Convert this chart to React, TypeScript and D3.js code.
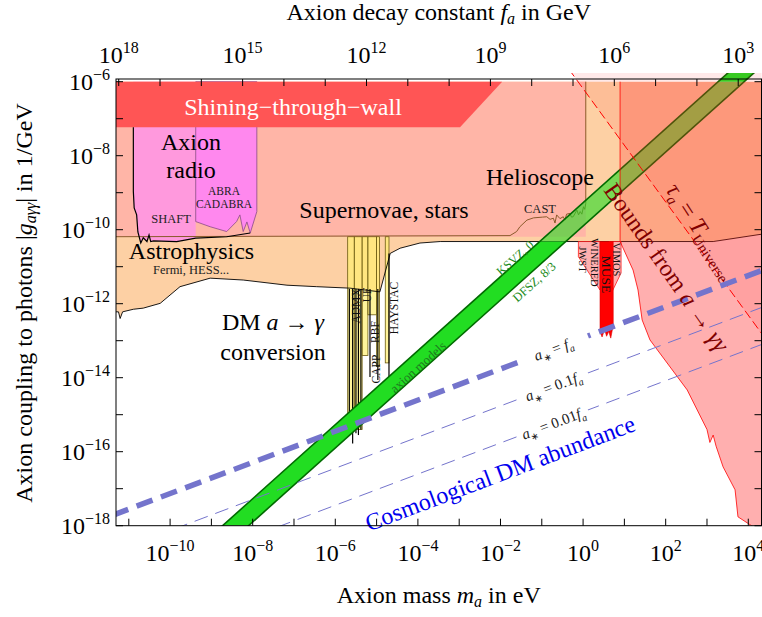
import React from "react";
import * as d3 from "d3";

// ---- axis ranges and ticks (log10 values) ----
const massRange = [-11.31, 4.32];
const couplingRange = [-18, -5.927];
const massTicks = d3.range(-11, 5);
const massTickLabels = [-10, -8, -6, -4, -2, 0, 2, 4];
const couplingTicks = d3.range(-18, -5);
const couplingTickLabels = [-18, -16, -14, -12, -10, -8, -6];
const faTicks = d3.range(3, 19);
const faTickLabels = [18, 15, 12, 9, 6, 3];
const massOfFaOffset = 6.756; // log10(m/eV) = 6.756 - log10(fa/GeV)

// ---- regions, [log10 m, log10 g] ----
const starBound = -10.19;
const starEdge = 0.065;
const stwRegion = [[-11.5, -6], [-1.96, -6], [-2.98, -7.23], [-11.5, -7.23]];
const astroLower = [
  [-11.31, -12.22], [-11.25, -12.22], [-11.21, -12.4], [-11.15, -12.22], [-10.89, -12.15],
  [-10.65, -12.12], [-10.24, -11.99], [-9.76, -11.54], [-9.03, -11.31], [-8.23, -11.36],
  [-7.17, -11.5], [-6.45, -11.54], [-5.64, -11.58], [-4.92, -11.68], [-4.67, -10.64],
  [-4.43, -10.5], [-3.95, -10.36], [-3.46, -10.32], [3.15, -10.32], [4.33, -10.12], [4.6, -10.07],
];
const shaftCurve = [
  [-10.89, -8.97], [-10.87, -9.41], [-10.81, -9.6], [-10.78, -10.06], [-10.71, -10.36],
  [-10.65, -10.22], [-10.56, -10.32], [-10.51, -10.14], [-10.47, -10.32], [-10.4, -10.3],
  [-9.84, -10.32], [-9.38, -10.23], [-8.63, -10.19], [-8.06, -10.09],
];
const abraCurve = [
  [-9.38, -9.78], [-9.03, -9.92], [-8.63, -10.05], [-8.39, -9.78], [-8.31, -9.6],
  [-8.23, -10.05], [-8.14, -9.79], [-8.06, -10.09], [-7.9, -9.51],
];
const castCurve = [
  [-11.5, -10.19], [-1.77, -10.16], [-1.61, -10.05], [-1.53, -9.92], [-1.36, -9.74], [-1.2, -9.68],
  [-0.98, -9.66], [-0.88, -9.65], [-0.8, -9.72], [-0.72, -9.69], [-0.68, -9.82], [-0.64, -9.6],
  [-0.56, -9.7], [-0.48, -9.65], [-0.44, -9.74], [-0.4, -9.58], [-0.32, -9.56], [-0.28, -9.66],
  [-0.24, -9.65], [-0.15, -9.47], [-0.11, -9.6], [-0.07, -9.51], [-0.03, -9.58], [0.01, -9.38],
  [0.04, -9.45], [0.065, -9.29], [0.065, -6],
];
const haloscopes = [
  { name: "ADMX", lo: -5.7, hi: -5.54, g: -15.14 },
  { name: "", lo: -5.54, hi: -5.35, g: -15.4 },
  { name: "UF", lo: -5.35, hi: -5.21, g: -13.4 },
  { name: "RBF", lo: -5.21, hi: -5.0, g: -12.3 },
  { name: "CAPP", lo: -5.0, hi: -4.93, g: -13.7 },
  { name: "HAYSTAC", lo: -4.79, hi: -4.7, g: -13.6 },
];
const haloSpikes = [
  [-5.66, -11.6, -15.2], [-5.58, -11.6, -15.78], [-5.5, -11.6, -15.5], [-5.44, -11.6, -15.55],
  [-5.38, -11.6, -15.4], [-5.16, -11.6, -13.98], [-4.97, -11.6, -14.06], [-4.7, -10.64, -14.06],
];
const jwstRegion = [[-0.114, -10.32], [-0.114, -10.73], [0.41, -11.63], [0.41, -10.32]];
const vimosRegion = [[0.63, -10.32], [0.92, -10.32], [0.92, -11.17], [0.7, -11.68]];
const museRegion = [
  [0.41, -10.32], [0.73, -10.32], [0.73, -12.58], [0.67, -12.93], [0.62, -12.75], [0.57, -12.88],
  [0.52, -12.7], [0.46, -12.9], [0.41, -12.76],
];
const decayEdge = [
  [0.896, -6], [0.896, -10.32], [1.21, -11.09], [1.33, -11.63], [1.43, -12.44], [1.62, -12.98],
  [2.52, -14.33], [3.0, -15.4], [3.07, -15.75], [3.15, -15.55], [3.22, -15.85], [3.39, -16.41],
  [3.68, -17.03], [3.75, -17.76], [4.12, -18.03], [4.6, -18.03],
];
const decayClose = [[4.6, -6]];
const tauLine = [[-0.9, -4.81], [4.6, -13.23]];
const ksvzLine = [[-12, -21.27], [5, -4.27]];
const dfszLine = [[-12, -21.9], [5, -4.9]];
const dmLine = [[-11.4, -17.72], [4.4, -11.07]];
const dmOffsets = [0, -1, -2];
const dmLabels = ["", "0.1", "0.01"];
const dmLabelMass = -0.72;

const FONT = "Liberation Serif, Tinos, Times New Roman, serif";

const L = 116, R = 761.5, T = 79, B = 525.7, CLIPTOP = 73;

export default function App() {
  const x = d3.scaleLog().domain([10 ** massRange[0], 10 ** massRange[1]]).range([L, R]);
  const y = d3.scaleLog().domain([10 ** couplingRange[0], 10 ** couplingRange[1]]).range([B, T]);
  const X = (v: number) => x(10 ** v);
  const Y = (v: number) => y(10 ** v);
  const line = d3.line<number[]>().x((d) => X(d[0])).y((d) => Y(d[1]));
  const poly = (pts: number[][]) => (line(pts) || "") + "Z";
  const ang = (a: number[], b: number[]) =>
    (Math.atan2(Y(b[1]) - Y(a[1]), X(b[0]) - X(a[0])) * 180) / Math.PI;

  const peach = [[-11.5, -6], [4.6, -6], ...astroLower.slice().reverse(), [-11.5, -12.22]];
  const belowAstro = [[-11.5, -12.22], ...astroLower, [4.6, -18.6], [-11.5, -18.6]];
  const salmon = [[-11.5, -6], [starEdge, -6], [starEdge, starBound], [-11.5, starBound]];
  const shaftRegion = [[-10.89, -6], ...shaftCurve.filter((p) => p[0] <= -9.38), [-9.38, -6]];
  const abraRegion = [[-9.38, -6], ...abraCurve, [-7.9, -6]];
  const band = [...ksvzLine, ...dfszLine.slice().reverse()];
  const tauRegion = [...tauLine, [4.6, -4.81]];
  const decayRegion = [...decayEdge, ...decayClose];
  const bandAngle = ang(ksvzLine[0], ksvzLine[1]);
  const dmAngle = ang(dmLine[0], dmLine[1]);
  const dmAt = (m: number, off: number) =>
    dmLine[0][1] + off + ((dmLine[1][1] - dmLine[0][1]) * (m - dmLine[0][0])) / (dmLine[1][0] - dmLine[0][0]);

  const sup = (e: number) => (e < 0 ? "\u2212" + Math.abs(e) : String(e));

  return (
    <svg width={762} height={617} style={{ position: "absolute", left: 0, top: 0, background: "#fff", fontFamily: FONT }}>
      <defs>
        <clipPath id="plot"><rect x={L} y={CLIPTOP} width={R - L} height={B - CLIPTOP} /></clipPath>
        <clipPath id="bandSolid">
          <rect x={L} y={CLIPTOP} width={R - L} height={Y(-6) - CLIPTOP} />
          <rect x={L} y={Y(-10.32)} width={R - L} height={B - Y(-10.32)} />
        </clipPath>
        <clipPath id="bandSoft"><rect x={L} y={Y(-6)} width={R - L} height={Y(-10.32) - Y(-6)} /></clipPath>
        <clipPath id="onAstro"><path d={poly(peach)} /></clipPath>
        <clipPath id="offAstro"><path d={poly(belowAstro)} /></clipPath>
      </defs>
      <g clipPath="url(#plot)">
        <path d={poly(peach)} fill="#FDD0A4" />
        <path d={poly(salmon)} fill="#FFB5A7" />
        <path d={poly(shaftRegion)} fill="#FF99DD" />
        <path d={poly(abraRegion)} fill="#FF88EE" stroke="#8a4a8a" strokeWidth={0.8} />
        <path d={poly(stwRegion)} fill="#FF5555" />
        {haloscopes.map((h, i) => (
          <rect key={i} x={X(h.lo)} y={Y(starBound)} width={X(h.hi) - X(h.lo)} height={Y(h.g) - Y(starBound)}
            fill="#FFEF70" fillOpacity={0.7} stroke="#6b5a10" strokeWidth={0.8} />
        ))}
        {haloSpikes.map((s, i) => (
          <line key={i} x1={X(s[0])} x2={X(s[0])} y1={Y(s[1])} y2={Y(s[2])} stroke="#000" strokeWidth={1.2} />
        ))}
        <path d={line(castCurve) || ""} fill="none" stroke="#8B5A2B" strokeWidth={1} />
        <path d={line(astroLower) || ""} fill="none" stroke="#000" strokeWidth={0.9} />
        <path d={line([[-10.89, -7.23], ...shaftCurve]) || ""} fill="none" stroke="#000" strokeWidth={1.2} />
        <path d={poly(jwstRegion)} fill="#FFB0B0" stroke="#FF0000" strokeWidth={0.7} />
        <path d={poly(vimosRegion)} fill="#FFB0B0" stroke="#FF0000" strokeWidth={0.7} />
        <path d={poly(museRegion)} fill="#FF0000" stroke="#DD0000" strokeWidth={0.6} />
        <g clipPath="url(#bandSolid)">
          <path d={poly(band)} fill="#22DD22" />
        </g>
        <g clipPath="url(#bandSoft)">
          <path d={poly(band)} fill="#22DD22" fillOpacity={0.6} />
        </g>
        <path d={line(ksvzLine) || ""} stroke="#006A00" strokeWidth={1.6} fill="none" />
        <path d={line(dfszLine) || ""} stroke="#006A00" strokeWidth={1.6} fill="none" />
        <path d={poly(tauRegion)} fill="#FF2a2a" fillOpacity={0.1} />
        <g clipPath="url(#onAstro)">
          <path d={poly(decayRegion)} fill="#FF2020" fillOpacity={0.24} />
        </g>
        <g clipPath="url(#offAstro)">
          <path d={poly(decayRegion)} fill="#FF2020" fillOpacity={0.36} />
        </g>
        <path d={line(decayEdge.slice(0, 15)) || ""} fill="none" stroke="#FF0000" strokeWidth={0.8} />
        <path d={line(tauLine) || ""} fill="none" stroke="#FF0000" strokeWidth={1} strokeDasharray="9 4" />
        {dmOffsets.map((off, i) => (
          <path key={i} d={line(dmLine.map((p) => [p[0], p[1] + off])) || ""} fill="none" stroke="#7474CC"
            strokeWidth={i === 0 ? 5.5 : 1} strokeDasharray={i === 0 ? "17 9" : "14 8"} />
        ))}
      </g>

      {/* DM labels on lines */}
      {dmOffsets.map((off, i) => (
        <g key={i} transform={`translate(${X(dmLabelMass)},${Y(dmAt(dmLabelMass, off))}) rotate(${dmAngle})`}>
          <rect x={-37} y={-11} width={74} height={22} fill="#fff" />
          <text textAnchor="middle" dy="0.35em" fontSize={15} fill="#222">
            <tspan fontStyle="italic">a</tspan>
            <tspan fontSize={10} dy={4}>{"\u2217"}</tspan>
            <tspan dy={-4}>{" = " + dmLabels[i]}</tspan>
            <tspan fontStyle="italic">f</tspan>
            <tspan fontSize={10} dy={4} fontStyle="italic">a</tspan>
          </text>
        </g>
      ))}

      {/* region labels */}
      <text x={293} y={115} fontSize={24} fill="#fff" textAnchor="middle">{"Shining\u2212through\u2212wall"}</text>
      <text x={191} y={150} fontSize={24} textAnchor="middle">Axion</text>
      <text x={191} y={178} fontSize={24} textAnchor="middle">radio</text>
      <text x={171} y={222.7} fontSize={12.5} textAnchor="middle" fill="#222">SHAFT</text>
      <text x={224} y={195} fontSize={11.5} textAnchor="middle" fill="#222">ABRA</text>
      <text x={224} y={208} fontSize={11.5} textAnchor="middle" fill="#222">CADABRA</text>
      <text x={384} y={218} fontSize={24} textAnchor="middle">Supernovae, stars</text>
      <text x={540} y={185} fontSize={24} textAnchor="middle">Helioscope</text>
      <text x={540} y={213} fontSize={12.5} textAnchor="middle" fill="#222">CAST</text>
      <text x={191.5} y={259} fontSize={24} textAnchor="middle">Astrophysics</text>
      <text x={191} y={274} fontSize={12.5} textAnchor="middle" fill="#222">Fermi, HESS...</text>
      <text x={273} y={330} fontSize={24} textAnchor="middle">
        DM <tspan fontStyle="italic">a</tspan> {"\u2192"} <tspan fontStyle="italic">{"\u03B3"}</tspan>
      </text>
      <text x={273} y={360} fontSize={24} textAnchor="middle">conversion</text>

      {/* haloscope labels */}
      {[
        ["ADMX", 355.7, 306], ["UF", 366.7, 295], ["RBF", 374.5, 332], ["CAPP", 375.5, 369], ["HAYSTAC", 394, 308],
      ].map(([t, px, py], i) => (
        <text key={i} transform={`translate(${px},${py}) rotate(-90)`} textAnchor="middle" dy="0.35em" fontSize={11.5} fill="#111">{t}</text>
      ))}
      {[
        ["JWST", 583, 259.5, 10.5], ["WINERED", 595, 262.5, 10.5], ["MUSE", 606.7, 274.5, 13.5], ["VIMOS", 617, 259.5, 10.5],
      ].map(([t, px, py, fs], i) => (
        <text key={i} transform={`translate(${px},${py}) rotate(90)`} textAnchor="middle" dy="0.35em" fontSize={fs as number} fill="#111">{t}</text>
      ))}

      {/* band labels */}
      <text transform={`translate(418,367) rotate(${bandAngle})`} textAnchor="middle" dy="0.35em" fontSize={13} fill="#1f7a1f">axion models</text>
      <text transform={`translate(515,258) rotate(${bandAngle})`} textAnchor="middle" dy="0.35em" fontSize={12.5} fill="#1a8a1a">KSVZ, 0</text>
      <text transform={`translate(534,282) rotate(${bandAngle})`} textAnchor="middle" dy="0.35em" fontSize={12.5} fill="#1a8a1a">DFSZ, 8/3</text>

      <text transform={`translate(500,473) rotate(${dmAngle})`} textAnchor="middle" dy="0.35em" fontSize={24} fill="#0000EE">Cosmological DM abundance</text>

      <text transform="translate(667,267) rotate(55)" textAnchor="middle" dy="0.35em" fontSize={24} fill="#800000">
        Bounds from <tspan fontStyle="italic">a</tspan> {"\u2192"} <tspan fontStyle="italic">{"\u03B3\u03B3"}</tspan>
      </text>
      <text transform="translate(702,231) rotate(57)" textAnchor="middle" dy="0.35em" fontSize={24} fill="#800000">
        <tspan fontStyle="italic">{"\u03C4"}</tspan>
        <tspan fontSize={15} dy={5} fontStyle="italic">a</tspan>
        <tspan dy={-5}>{" = "}</tspan>
        <tspan fontStyle="italic">T</tspan>
        <tspan fontSize={15} dy={5}>Universe</tspan>
      </text>

      {/* frame and ticks */}
      <rect x={L} y={T} width={R - L} height={B - T} fill="none" stroke="#000" strokeWidth={1} />
      {massTicks.map((m) => (
        <line key={"b" + m} x1={X(m)} x2={X(m)} y1={B} y2={B - 7} stroke="#000" />
      ))}
      {faTicks.map((f) => (
        <line key={"t" + f} x1={X(massOfFaOffset - f)} x2={X(massOfFaOffset - f)} y1={T} y2={T + 7} stroke="#000" />
      ))}
      {couplingTicks.map((g) => (
        <g key={"l" + g}>
          <line x1={L} x2={L + 7} y1={Y(g)} y2={Y(g)} stroke="#000" />
          <line x1={R} x2={R - 7} y1={Y(g)} y2={Y(g)} stroke="#000" />
        </g>
      ))}
      {massTickLabels.map((m) => (
        <text key={"bl" + m} x={X(m)} y={561} textAnchor="middle" fontSize={24}>
          10<tspan fontSize={16} dy={-10}>{sup(m)}</tspan>
        </text>
      ))}
      {faTickLabels.map((f) => (
        <text key={"tl" + f} x={X(massOfFaOffset - f)} y={63} textAnchor="middle" fontSize={24}>
          10<tspan fontSize={16} dy={-10}>{sup(f)}</tspan>
        </text>
      ))}
      {couplingTickLabels.map((g) => (
        <text key={"ll" + g} x={110} y={Y(g) + 8} textAnchor="end" fontSize={24}>
          10<tspan fontSize={16} dy={-10}>{sup(g)}</tspan>
        </text>
      ))}

      {/* axis titles */}
      <text x={(L + R) / 2} y={603} textAnchor="middle" fontSize={24}>
        Axion mass <tspan fontStyle="italic">m</tspan><tspan fontSize={16} dy={4} fontStyle="italic">a</tspan><tspan dy={-4}> in eV</tspan>
      </text>
      <text x={(L + R) / 2} y={20} textAnchor="middle" fontSize={24}>
        Axion decay constant <tspan fontStyle="italic">f</tspan><tspan fontSize={16} dy={4} fontStyle="italic">a</tspan><tspan dy={-4}> in GeV</tspan>
      </text>
      <text transform={`translate(32,303) rotate(-90)`} textAnchor="middle" fontSize={24}>
        Axion coupling to photons |<tspan fontStyle="italic">g</tspan><tspan fontSize={16} dy={4} fontStyle="italic">{"a\u03B3\u03B3"}</tspan><tspan dy={-4}>| in 1/GeV</tspan>
      </text>
    </svg>
  );
}
